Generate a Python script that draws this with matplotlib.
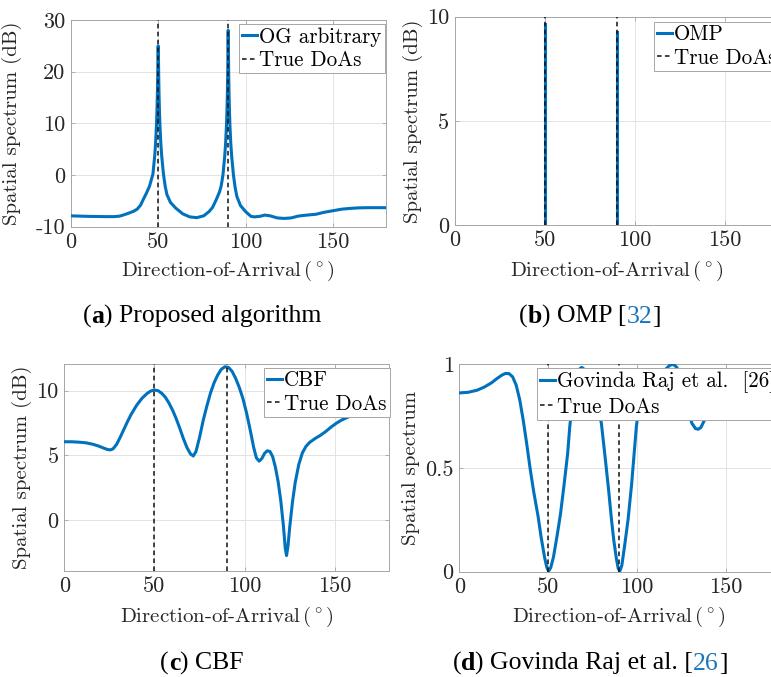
import matplotlib
matplotlib.use("Agg")
import matplotlib.pyplot as plt

# ---------------- data ----------------
true_doas = [50, 90]

# (a) Proposed algorithm (OG arbitrary), dB
og_x = [0, 10, 20, 25, 28, 30, 33, 36, 38, 40, 41.3, 43, 45, 46, 47, 48, 48.5, 49,
        49.25, 49.5, 49.7, 49.8, 49.9, 50, 50.1, 50.2, 50.3, 50.5, 50.75, 51, 51.5,
        52, 53, 54, 55, 57, 60, 64, 68, 72, 76, 79, 81, 83, 85, 86, 87, 88, 88.5,
        89, 89.25, 89.5, 89.7, 89.8, 89.9, 90, 90.1, 90.2, 90.3, 90.5, 90.75, 91,
        91.5, 92, 93, 94, 95, 97, 100, 103, 105, 108, 111, 114, 118, 122, 126,
        130, 135, 140, 145, 150, 155, 160, 165, 170, 180]
og_y = [-7.9, -8.0, -8.05, -8.05, -7.95, -7.75, -7.4, -7.0, -6.6, -5.8, -4.84,
        -3.7, -2.2, -1.0, 0.2, 3.7, 6.1, 9.6, 12.0, 15.25, 18.9, 21.3, 23.7, 25,
        23.7, 21.3, 18.9, 15.25, 12.0, 9.6, 6.1, 3.7, 0.2, -2.2, -3.8, -5.3, -6.4,
        -7.5, -8.1, -8.25, -7.9, -7.1, -6.3, -4.9, -3.3, -2.1, 0.0, 3.6, 6.0, 9.5,
        12.0, 15.4, 19.4, 22.2, 25.7, 28, 25.7, 22.2, 19.4, 15.4, 12.0, 9.5, 6.0,
        3.6, 0.0, -2.5, -4.2, -5.9, -7.1, -8.0, -8.1, -8.0, -7.75, -7.9, -8.3,
        -8.4, -8.3, -7.95, -7.75, -7.6, -7.2, -6.9, -6.6, -6.45, -6.35, -6.32,
        -6.32]

# (b) OMP spikes, dB
omp_x = [50, 90]
omp_y = [9.65, 9.25]

# (c) CBF, dB
cbf_x = [0, 4, 8, 12, 16, 19, 22, 24, 25.5, 27, 29, 31, 33, 35, 37, 40, 43, 46, 48,
         50, 52, 54, 56, 58, 60, 62, 64, 66, 68, 70, 71.5, 73, 75, 77, 79, 81, 83,
         85, 87, 89, 91, 93, 95, 97, 99, 101, 103, 105, 106.5, 108, 109.5, 111,
         112.5, 114, 115.5, 117, 118.5, 120, 121.5, 122.5, 123.2, 124, 125, 126.5,
         128, 130, 132, 134, 136, 139, 142, 145, 148, 151, 154, 158, 163, 170, 176,
         180]
cbf_y = [6.05, 6.05, 6.02, 5.97, 5.85, 5.72, 5.55, 5.45, 5.42, 5.5, 5.85, 6.4, 7.0,
         7.6, 8.15, 8.85, 9.4, 9.8, 9.98, 10.05, 10.0, 9.8, 9.5, 9.05, 8.5, 7.85,
         7.1, 6.3, 5.6, 5.1, 4.95, 5.3, 6.4, 7.7, 8.8, 9.8, 10.6, 11.2, 11.65,
         11.85, 11.8, 11.5, 10.95, 10.25, 9.4, 8.3, 7.0, 5.6, 4.8, 4.55, 4.75,
         5.15, 5.35, 5.3, 4.9, 4.1, 3.0, 1.5, -0.5, -2.2, -2.75, -2.0, -0.5, 1.4,
         2.9, 4.3, 5.2, 5.7, 6.0, 6.3, 6.55, 6.85, 7.2, 7.5, 7.75, 8.0, 8.25, 8.35,
         8.25, 8.2]

# (d) Govinda Raj et al. [26], linear
gr_x = [0, 5, 10, 14, 18, 21, 24, 26, 28, 30, 32, 34, 36, 37.9, 40, 42, 44.4, 46,
        48, 49.3, 50.3, 51.5, 53, 55, 57, 59, 61, 62.2, 64, 66, 68, 69, 70.5, 72,
        74, 76, 78, 80, 82, 84, 85.7, 87, 88.5, 89.5, 90.4, 91.5, 93, 95, 97, 99.7,
        102, 104, 107, 110, 113, 116, 118.5, 120.5, 122.5, 125, 127, 129, 131, 133,
        134.5, 136, 138, 141, 145, 150, 160, 170, 180]
gr_y = [0.862, 0.865, 0.875, 0.89, 0.91, 0.93, 0.948, 0.956, 0.955, 0.94, 0.9,
        0.83, 0.73, 0.62, 0.49, 0.38, 0.265, 0.17, 0.07, 0.02, 0.003, 0.02, 0.07,
        0.17, 0.28, 0.42, 0.57, 0.70, 0.84, 0.93, 0.98, 0.985, 0.975, 0.95, 0.92,
        0.87, 0.80, 0.715, 0.56, 0.40, 0.25, 0.15, 0.06, 0.015, 0.003, 0.03, 0.12,
        0.25, 0.42, 0.70, 0.86, 0.93, 0.95, 0.955, 0.96, 0.975, 0.995, 1.0, 0.985,
        0.93, 0.85, 0.77, 0.715, 0.69, 0.687, 0.695, 0.73, 0.8, 0.88, 0.93, 0.95,
        0.945, 0.94]

# ---------------- style ----------------
plt.rcParams['font.family'] = ['cmr10', 'DejaVu Serif']
plt.rcParams['mathtext.fontset'] = 'cm'
plt.rcParams['axes.unicode_minus'] = False
plt.rcParams['axes.formatter.use_mathtext'] = False

BLUE = '#0072BD'
SPINE = '#a6a6a6'
GRID = '#e3e3e3'
TXT = '#262626'
LINK = '#1a75bb'
FS_TICK = 16
FS_LAB = 15
FS_LEG = 15.2

fig = plt.figure(figsize=(7.71, 6.77), dpi=100)

W, H = 771.0, 677.0


def px_axes(l, t, r, b):
    return fig.add_axes([l / W, 1 - b / H, (r - l) / W, (b - t) / H])


def style(ax, ylabel, yticks, ylim, xlab_y, ylab_x):
    ax.set_xlim(0, 180)
    ax.set_ylim(*ylim)
    ax.set_xticks([0, 50, 100, 150])
    ax.set_yticks(yticks)
    ax.grid(True, color=GRID, lw=0.7)
    ax.set_axisbelow(True)
    for s in ax.spines.values():
        s.set_color(SPINE)
        s.set_linewidth(0.7)
    ax.tick_params(direction='in', length=3, width=0.6, color=SPINE,
                   labelcolor=TXT, labelsize=FS_TICK, top=True, right=True, pad=4)
    ax.set_xlabel(r'Direction-of-Arrival$\,(^\circ)$', fontsize=FS_LAB, color=TXT)
    ax.xaxis.set_label_coords(0.5, xlab_y)
    ax.xaxis.label.set_va('baseline')
    ax.set_ylabel(ylabel, fontsize=FS_LAB, color=TXT)
    ax.yaxis.set_label_coords(ylab_x, 0.5)
    ax.yaxis.label.set_va('center')


def truedoa(ax):
    first = True
    for d in true_doas:
        ax.axvline(d, color='#111111', lw=1.1, dashes=(3, 2.2), zorder=5,
                   label='True DoAs' if first else None)
        first = False


def legend(ax, x, y):
    leg = ax.legend(loc='upper left', bbox_to_anchor=(x / W, 1 - y / H),
                    bbox_transform=fig.transFigure, fontsize=FS_LEG, frameon=True,
                    fancybox=False, framealpha=1, edgecolor=SPINE,
                    borderpad=0.15, labelspacing=0.18, handlelength=0.7,
                    handletextpad=0.1, borderaxespad=0)
    leg.get_frame().set_linewidth(0.7)
    leg.set_zorder(10)
    for t in leg.get_texts():
        t.set_color('black')
    return leg


# (a)
ax1 = px_axes(70.7, 20, 385.7, 226.7)
ax1.plot(og_x, og_y, color=BLUE, lw=2.2, label='OG arbitrary', zorder=4)
truedoa(ax1)
style(ax1, 'Spatial spectrum (dB)', [-10, 0, 10, 20, 30], (-10, 30), -0.2385, -0.186)
legend(ax1, 239.3, 24)

# (b)
ax2 = px_axes(455, 16.7, 779, 225)
for i, (xx, yy) in enumerate(zip(omp_x, omp_y)):
    ax2.plot([xx, xx], [0, yy], color=BLUE, lw=2.2, zorder=4,
             label='OMP' if i == 0 else None)
truedoa(ax2)
style(ax2, 'Spatial spectrum (dB)', [0, 5, 10], (0, 10), -0.245, -0.129)
legend(ax2, 654, 21.7)

# (c)
ax3 = px_axes(64.3, 364.3, 389, 570.7)
ax3.plot(cbf_x, cbf_y, color=BLUE, lw=2.2, label='CBF', zorder=4)
truedoa(ax3)
style(ax3, 'Spatial spectrum (dB)', [0, 5, 10], (-3.92, 12.04), -0.247, -0.130)
legend(ax3, 264, 367.7)

# (d)
ax4 = px_axes(459.3, 364.3, 779, 571.7)
ax4.plot(gr_x, gr_y, color=BLUE, lw=2.2, label='Govinda Raj et al.  [26]', zorder=4)
truedoa(ax4)
style(ax4, 'Spatial spectrum', [0, 0.5, 1], (0, 1), -0.241, -0.15)
ax4.set_yticklabels(['0', '0.5', '1'])
legend(ax4, 537.3, 368.3)

# ---------------- captions ----------------
CAP_FS = 18.5


def caption(cx_px, base_px, parts):
    renderer = fig.canvas.get_renderer()
    texts = []
    for s, w, c in parts:
        t = fig.text(0, 1 - base_px / H, s, fontsize=CAP_FS, fontweight=w, color=c,
                     family='Liberation Serif', va='baseline', ha='left')
        texts.append(t)
    widths = [t.get_window_extent(renderer).width for t in texts]
    total = sum(widths)
    x = cx_px - total / 2.0
    for t, w in zip(texts, widths):
        t.set_x(x / W)
        x += w


caption(202, 323, [('(', 'normal', 'black'), ('a', 'bold', 'black'),
                   (') Proposed algorithm', 'normal', 'black')])
caption(590, 323, [('(', 'normal', 'black'), ('b', 'bold', 'black'),
                   (') OMP [', 'normal', 'black'), ('32', 'normal', LINK),
                   (']', 'normal', 'black')])
caption(202, 670, [('(', 'normal', 'black'), ('c', 'bold', 'black'),
                   (') CBF', 'normal', 'black')])
caption(590, 670, [('(', 'normal', 'black'), ('d', 'bold', 'black'),
                   (') Govinda Raj et al. [', 'normal', 'black'), ('26', 'normal', LINK),
                   (']', 'normal', 'black')])

fig.savefig('out.png', dpi=100)
